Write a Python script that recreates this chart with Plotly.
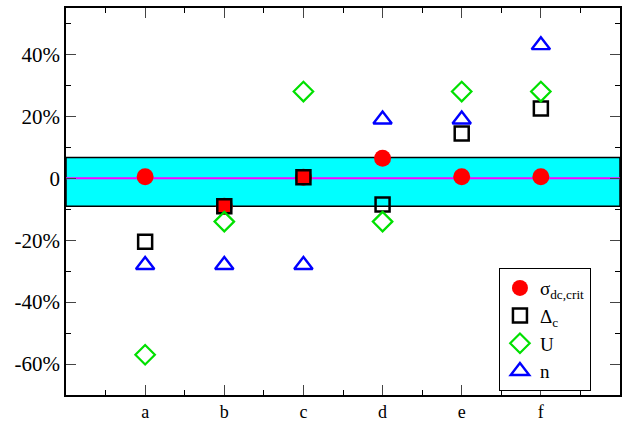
import plotly.graph_objects as go

categories = ["a", "b", "c", "d", "e", "f"]
sigma_vals = [0.5, -9.0, 0.3, 6.5, 0.5, 0.5]
delta_vals = [-20.5, -9.0, 0.3, -8.5, 14.5, 22.5]
u_vals = [-57.0, -14.0, 28.0, -14.0, 28.0, 28.0]
n_vals = [-28.0, -28.0, -28.0, 19.0, 19.0, 43.0]
band_low, band_high = -9.0, 6.7
ytick_vals = [40, 20, 0, -20, -40, -60]
ytick_text = ["40%", "20%", "0", "-20%", "-40%", "-60%"]

xpos = list(range(1, len(categories) + 1))
font = "Liberation Serif"

fig = go.Figure()
fig.add_shape(type="rect", xref="paper", x0=0, x1=1, yref="y", y0=band_low, y1=band_high,
              fillcolor="#00ffff", line=dict(color="black", width=1.5), layer="below")
fig.add_shape(type="line", xref="paper", x0=0, x1=1, yref="y", y0=0, y1=0,
              line=dict(color="#ff00ff", width=2), layer="below")

fig.add_trace(go.Scatter(x=xpos, y=sigma_vals, mode="markers", name="σ<sub>dc,crit</sub>",
                         marker=dict(symbol="circle", size=17, color="#ff0000", line=dict(width=0))))
fig.add_trace(go.Scatter(x=xpos, y=delta_vals, mode="markers", name="Δ<sub>c</sub>",
                         marker=dict(symbol="square-open", size=14, color="black", line=dict(width=2.5))))
fig.add_trace(go.Scatter(x=xpos, y=u_vals, mode="markers", name="U",
                         marker=dict(symbol="diamond-open", size=15, color="#00e000", line=dict(width=2.2))))
fig.add_trace(go.Scatter(x=xpos, y=n_vals, mode="markers", name="n",
                         marker=dict(symbol="triangle-up-open", size=16, color="#0000ff", line=dict(width=2.4))))

fig.update_layout(
    width=625, height=422,
    margin=dict(l=66, r=5, t=8, b=27, autoexpand=False),
    paper_bgcolor="white", plot_bgcolor="white",
    font=dict(family=font, color="black"),
    showlegend=True,
    legend=dict(x=0.7815, y=0.328, xanchor="left", yanchor="top",
                bordercolor="black", borderwidth=1, bgcolor="white",
                font=dict(family=font, size=19), tracegroupgap=0, itemwidth=30,
                valign="middle"),
)
fig.update_xaxes(range=[0, 7], tickvals=xpos, ticktext=categories, ticks="inside", ticklen=10,
                 showline=True, linecolor="black", linewidth=1.5, mirror="ticks", showgrid=False,
                 zeroline=False, automargin=False, tickfont=dict(family=font, size=18),
                 minor=dict(tickvals=[x + 0.5 for x in range(0, 7)], ticks="inside", ticklen=5,
                            tickcolor="black", showgrid=False))
fig.update_yaxes(range=[-70, 55], tickvals=ytick_vals, ticktext=ytick_text, ticks="inside", ticklen=10,
                 showline=True, linecolor="black", linewidth=1.5, mirror="ticks", showgrid=False,
                 zeroline=False, automargin=False, tickfont=dict(family=font, size=21),
                 minor=dict(tickvals=[-70, -50, -30, -10, 10, 30, 50], ticks="inside", ticklen=5,
                            tickcolor="black", showgrid=False))

fig.write_html("out.html", config={"displayModeBar": False},
               post_script="document.body.style.margin='0';document.body.style.overflow='hidden';")
